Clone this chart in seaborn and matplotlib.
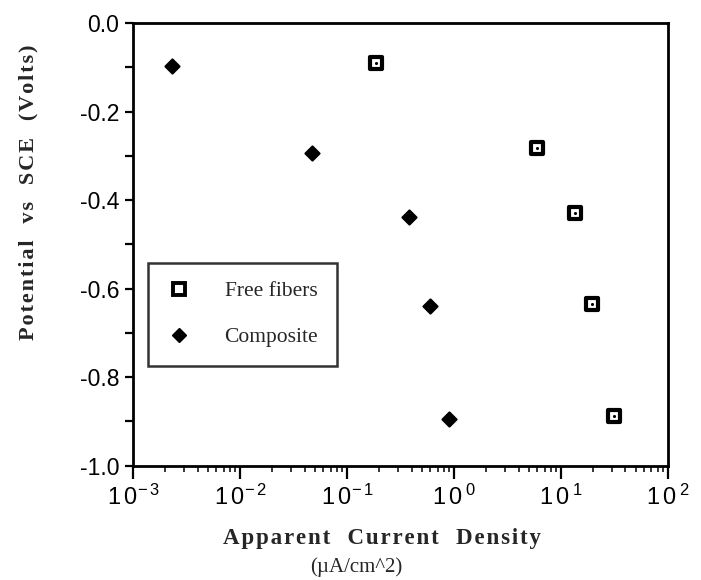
import numpy as np
import pandas as pd
import matplotlib
matplotlib.use("Agg")
import matplotlib.pyplot as plt
import seaborn as sns
from matplotlib.lines import Line2D
from matplotlib.ticker import LogLocator, MultipleLocator

# data
free_current = [0.186, 5.9, 13.4, 19.6, 31.5]
free_potential = [-0.089, -0.282, -0.430, -0.634, -0.887]
comp_current = [0.0023, 0.047, 0.38, 0.60, 0.89]
comp_potential = [-0.097, -0.293, -0.437, -0.640, -0.894]
decades = [1e-3, 1e-2, 1e-1, 1e0, 1e1, 1e2]
decade_labels = [r'$\mathregular{1\,0^{-\,3}}$', r'$\mathregular{1\,0^{-\,2}}$', r'$\mathregular{1\,0^{-\,1}}$',
                 r'$\mathregular{1\,0^{\,0}}$', r'$\mathregular{1\,0^{\,1}}$', r'$\mathregular{1\,0^{\,2}}$']
y_ticks = [0.0, -0.2, -0.4, -0.6, -0.8, -1.0]
y_labels = ['0.0', '-0.2', '-0.4', '-0.6', '-0.8', '-1.0']

free_df = pd.DataFrame({'current': free_current, 'potential': free_potential})
comp_df = pd.DataFrame({'current': comp_current, 'potential': comp_potential})


def spaced(text, gap, word_gap='    '):
    # small gap between letters, wide gaps between words
    return word_gap.join(gap.join(w) for w in text.split(' '))


serif = ['Liberation Serif', 'DejaVu Serif']

sns.set_theme(style="white")
plt.rcParams['font.family'] = ['Liberation Sans', 'DejaVu Sans']
plt.rcParams['mathtext.fontset'] = 'custom'
plt.rcParams['mathtext.rm'] = 'Liberation Sans'

fig = plt.figure(figsize=(7.01, 5.80), dpi=100)
ax = fig.add_axes([0.190, 0.197, 0.763, 0.763])

sns.scatterplot(data=comp_df, x='current', y='potential', ax=ax, marker='D', s=52,
                color='black', edgecolor='black', linewidth=1.5, zorder=3)
sns.scatterplot(data=free_df, x='current', y='potential', ax=ax, marker='s', s=80,
                color='white', edgecolor='black', linewidth=3.0, zorder=3)
sns.scatterplot(data=free_df, x='current', y='potential', ax=ax, marker='o', s=5,
                color='black', edgecolor='black', linewidth=0, zorder=4)

ax.set_xscale('log')
ax.set_xlim(1e-3, 1e2)
ax.set_ylim(-1.0, 0.0)

ax.set_xticks(decades)
ax.set_xticklabels(decade_labels, fontsize=17)
ax.xaxis.set_minor_locator(LogLocator(base=10, subs=np.arange(2, 10)))
ax.set_yticks(y_ticks)
ax.set_yticklabels(y_labels, fontsize=16.5)
ax.yaxis.set_minor_locator(MultipleLocator(0.1))

ax.tick_params(axis='x', which='major', direction='out', length=9, width=1.6,
               bottom=True, top=False, pad=5, colors='black')
ax.tick_params(axis='x', which='minor', direction='out', length=4.5, width=1.3,
               bottom=True, top=False)
ax.tick_params(axis='y', which='both', direction='out', length=6, width=1.6,
               left=True, right=False, pad=4, colors='black')

for sp in ax.spines.values():
    sp.set_color('black')
    sp.set_linewidth(2.0)

ax.set_xlabel(spaced('Apparent Current Density', '\u200a', '   '), fontsize=16.5,
              fontweight='bold', family=serif)
ax.xaxis.set_label_coords((382 - 133) / 535, (466 - 528) / 443)
ax.set_ylabel(spaced('Potential vs SCE (Volts)', '\u200a', '   '), fontsize=16,
              fontweight='bold', family=serif)
ax.yaxis.set_label_coords((38 - 133) / 535, (466 - 192) / 443)
ax.text((356 - 133) / 535, (466 - 567) / 443, '(\u00b5A/cm^2)', transform=ax.transAxes,
        ha='center', va='center', fontsize=15, family=serif)

handles = [
    Line2D([], [], marker='s', linestyle='none', markersize=8, markerfacecolor='white',
           markeredgecolor='black', markeredgewidth=2.8),
    Line2D([], [], marker='D', linestyle='none', markersize=7.5, markerfacecolor='black',
           markeredgecolor='black'),
]
leg = ax.legend(handles, ['Free fibers', 'Composite'], loc='upper left',
                bbox_to_anchor=(0.028, 0.458), frameon=True, fancybox=False,
                prop={'family': serif, 'size': 15.5},
                labelspacing=1.2, handletextpad=1.5, borderpad=0.85, borderaxespad=0,
                handlelength=1.2)
leg.get_frame().set_edgecolor('black')
leg.get_frame().set_linewidth(1.8)

fig.savefig('out.png', dpi=100, facecolor='white')
